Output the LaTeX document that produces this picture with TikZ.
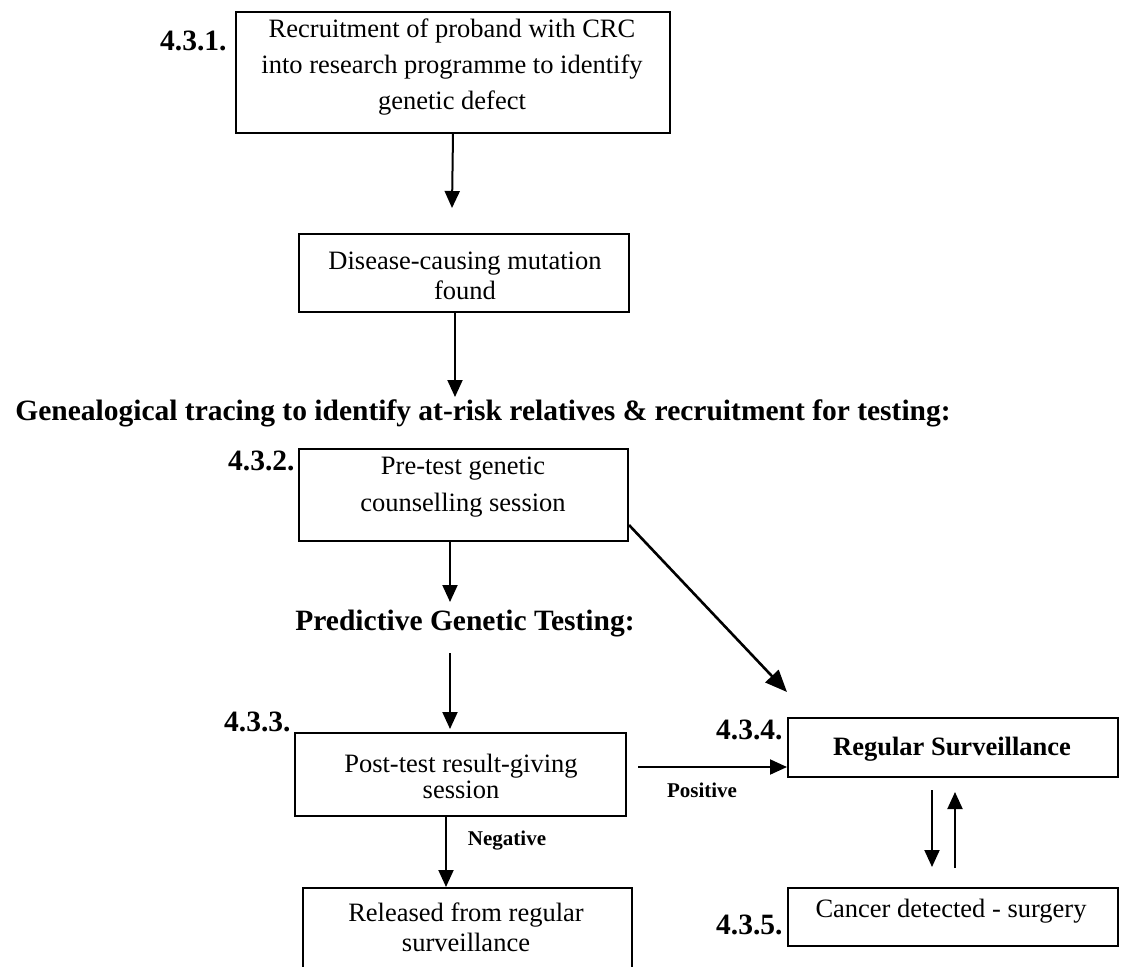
\documentclass[tikz,border=0pt]{standalone}
\usepackage{fontspec}
\setmainfont{Liberation Serif}
\usetikzlibrary{arrows.meta}
\begin{document}
\begin{tikzpicture}[x=0.5pt,y=-0.5pt,
  box/.style={draw, line width=1pt, inner sep=0pt, anchor=north west},
  txt/.style={font=\fontsize{13.25}{15}\selectfont, inner sep=0pt, anchor=base},
  btxt/.style={font=\fontsize{13.25}{15}\selectfont\bfseries, inner sep=0pt, anchor=base},
  lab/.style={font=\fontsize{14.75}{17}\selectfont\bfseries, inner sep=0pt, anchor=base east},
  hd/.style={font=\fontsize{14.75}{17}\selectfont\bfseries, inner sep=0pt, anchor=base},
  sm/.style={font=\fontsize{10.5}{12}\selectfont\bfseries, inner sep=0pt, anchor=base},
  arr/.style={-{Triangle[length=8.5pt,width=7.5pt]}, line width=1pt},
  bigarr/.style={-{Triangle[length=11pt,width=9pt]}, line width=1.3pt}]
\fill[white] (0,0) rectangle (1121,966);
\useasboundingbox (0,0) rectangle (1121,966);

% boxes
\node[box, minimum width=217pt, minimum height=60.5pt] (b1) at (235,11) {};
\node[box, minimum width=165pt, minimum height=39pt] (b2) at (298,233) {};
\node[box, minimum width=164.5pt, minimum height=46pt] (b432) at (298,448) {};
\node[box, minimum width=165.5pt, minimum height=41.5pt] (b433) at (294,732) {};
\node[box, minimum width=164.5pt, minimum height=46.5pt] (brel) at (302,887) {};
\node[box, minimum width=165pt, minimum height=29.5pt] (b434) at (787,717) {};
\node[box, minimum width=165pt, minimum height=29pt] (b435) at (787,887) {};

% texts
\node[lab] (l1) at (227,50) {4.3.1.};
\node[txt] (t1a) at (452,37) {Recruitment of proband with CRC};
\node[txt] (t1b) at (452,73) {into research programme to identify};
\node[txt] (t1c) at (452,109) {genetic defect};

\node[txt] (t2a) at (465,269) {Disease-causing mutation};
\node[txt] (t2b) at (465,299) {found};

\node[hd] (hdr) at (483,420) {Genealogical tracing to identify at-risk relatives \& recruitment for testing:};

\node[lab] (l2) at (295,470) {4.3.2.};
\node[txt] (t3a) at (463,474) {Pre-test genetic};
\node[txt] (t3b) at (463,511) {counselling session};

\node[hd, anchor=base west] (pgt) at (295,630) {Predictive Genetic Testing:};

\node[lab] (l3) at (291,731) {4.3.3.};
\node[txt] (t4a) at (461,772) {Post-test result-giving};
\node[txt] (t4b) at (461,798) {session};

\node[sm] (pos) at (702,797) {Positive};
\node[sm] (neg) at (507,845) {Negative};

\node[txt] (t5a) at (466,921) {Released from regular};
\node[txt] (t5b) at (466,951) {surveillance};

\node[lab] (l4) at (783,739) {4.3.4.};
\node[btxt] (t6) at (952,755) {Regular Surveillance};

\node[lab] (l5) at (783,934) {4.3.5.};
\node[txt] (t7) at (951,917) {Cancer detected - surgery};

% connectors
\coordinate (a1e) at (452,208);
\draw[arr] (b1.south) -- (a1e);
\coordinate (a2e) at (455,397);
\draw[arr] (b2.south -| a2e) -- (a2e);
\coordinate (a3e) at (450,602);
\draw[arr] (b432.south -| a3e) -- (a3e);
\coordinate (a4s) at (450,653);
\coordinate (a4e) at (450,729);
\draw[arr] (a4s) -- (a4e);
\coordinate (dgs) at (0,525);
\coordinate (dge) at (787,692);
\draw[bigarr] (b432.east |- dgs) -- (dge);
\coordinate (ps) at (638,767);
\draw[arr] (ps) -- (b434.west |- ps);
\coordinate (ngx) at (446,0);
\draw[arr] (b433.south -| ngx) -- (brel.north -| ngx);
\coordinate (dns) at (932,790);
\coordinate (dne) at (932,867);
\draw[arr] (dns) -- (dne);
\coordinate (ups) at (955,868);
\coordinate (upe) at (955,792);
\draw[arr] (ups) -- (upe);
\end{tikzpicture}
\end{document}
